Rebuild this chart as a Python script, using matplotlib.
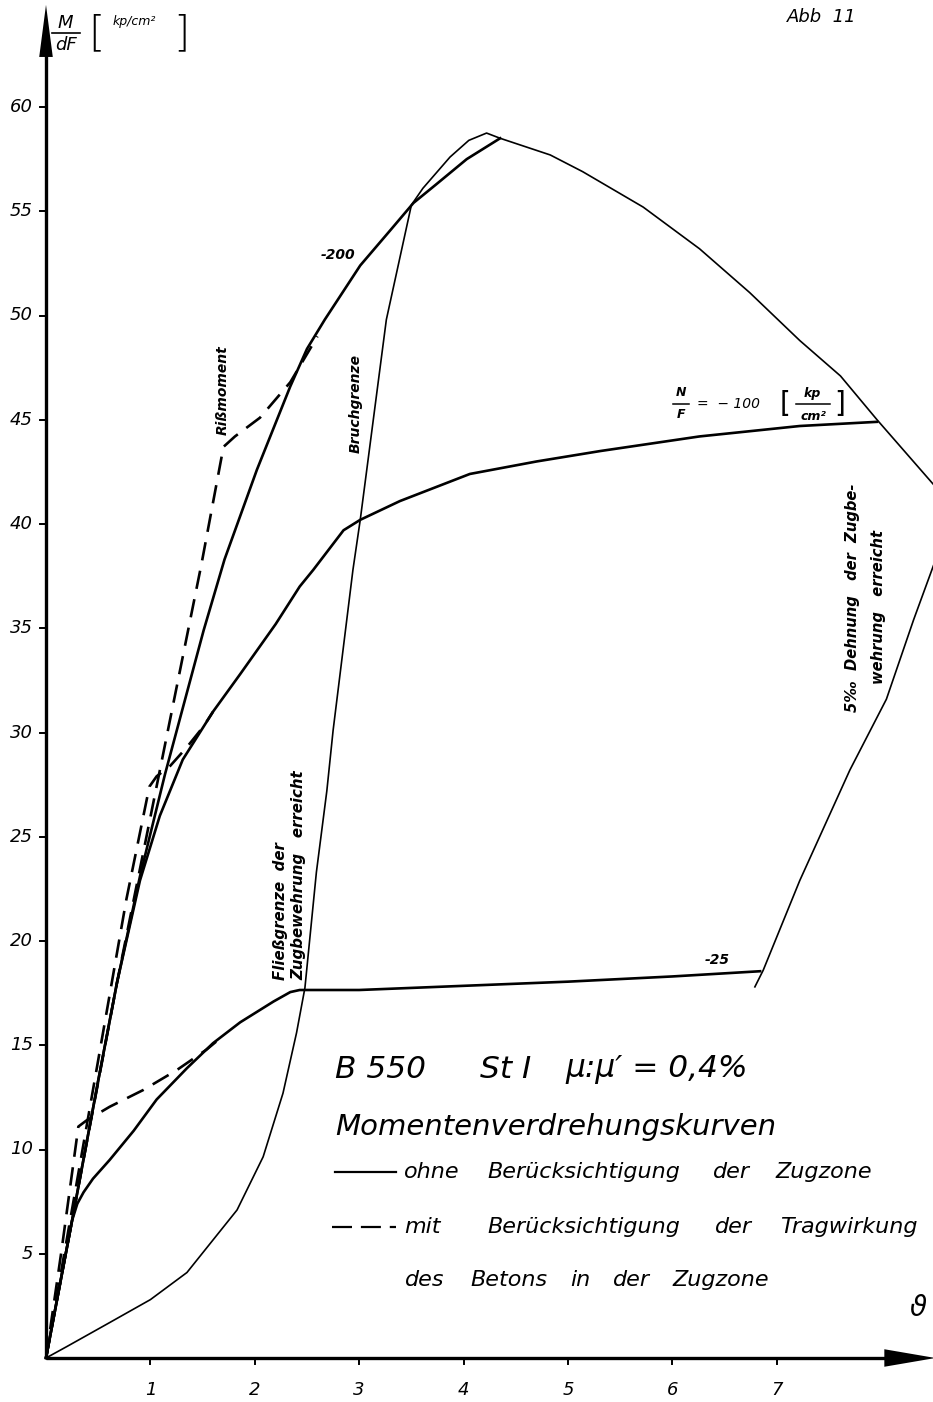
import matplotlib
matplotlib.use("Agg")
import matplotlib.pyplot as plt
import numpy as np

# ---------------------------------------------------------------------------
# Moment-curvature data  (x: curvature, y: M/dF in kp/cm^2)
# ---------------------------------------------------------------------------
# N/F = -25, without tension zone
k_n25 = [0, 0.12, 0.25, 0.30, 0.36, 0.45, 0.61, 0.84, 1.06, 1.35, 1.60, 1.86,
         2.18, 2.34, 2.43, 3.0, 4.0, 5.0, 6.0, 6.84]
m_n25 = [0, 3.2, 6.6, 7.4, 7.95, 8.6, 9.5, 10.9, 12.4, 13.9, 15.1, 16.1,
         17.1, 17.55, 17.65, 17.65, 17.85, 18.05, 18.3, 18.55]
# N/F = -25, with tension zone
k_n25_t = [0, 0.15, 0.31, 0.39, 0.61, 0.93, 1.25, 1.54, 1.66]
m_n25_t = [0, 5.2, 11.1, 11.4, 12.05, 12.85, 13.8, 14.8, 15.3]

# N/F = -100, without tension zone
k_n100 = [0, 0.25, 0.5, 0.68, 0.9, 1.09, 1.31, 1.6, 1.86, 2.2, 2.43, 2.56,
          2.85, 3.01, 3.39, 4.06, 4.7, 5.31, 6.26, 7.22, 7.96]
m_n100 = [0, 6.6, 13.3, 18.0, 22.9, 26.0, 28.7, 31.0, 32.8, 35.2, 37.0, 37.8,
          39.7, 40.2, 41.1, 42.4, 43.0, 43.5, 44.2, 44.7, 44.9]
# N/F = -100, with tension zone
k_n100_t = [0, 0.77, 0.99, 1.06, 1.19, 1.35, 1.51, 1.6]
m_n100_t = [0, 22.0, 27.4, 27.9, 28.4, 29.3, 30.3, 31.0]

# N/F = -200, without tension zone
k_n200 = [0, 0.25, 0.5, 0.68, 0.9, 1.14, 1.51, 1.71, 2.02, 2.34, 2.50, 2.67,
          3.01, 3.30, 3.52, 3.74, 4.03, 4.35]
m_n200 = [0, 6.6, 13.3, 18.0, 23.1, 28.0, 34.9, 38.3, 42.6, 46.6, 48.4, 49.8,
          52.4, 54.1, 55.4, 56.3, 57.5, 58.5]
# N/F = -200, with tension zone
k_n200_t = [0, 0.68, 1.49, 1.70, 1.81, 2.05, 2.34, 2.6]
m_n200_t = [0, 18.0, 38.1, 43.7, 44.2, 45.1, 46.8, 49.0]

# failure limit (Bruchgrenze)
k_bruch = [0, 0.2, 0.61, 1.0, 1.35, 1.83, 2.08, 2.27, 2.40, 2.48, 2.59, 2.69,
           2.75, 2.94, 3.01, 3.26, 3.50, 3.61, 3.87, 4.05, 4.22, 4.35, 4.83,
           5.14, 5.72, 6.26, 6.74, 7.22, 7.61, 7.96, 8.50]
m_bruch = [0, 0.55, 1.7, 2.8, 4.1, 7.1, 9.65, 12.7, 15.6, 17.75, 23.3, 27.2,
           30.1, 37.8, 40.2, 49.8, 55.3, 56.1, 57.6, 58.4, 58.75, 58.5, 57.7,
           56.9, 55.2, 53.2, 51.1, 48.8, 47.1, 45.0, 41.9]

# 5 permille steel strain reached
k_5pm = [6.79, 6.87, 7.22, 7.70, 8.05, 8.31, 8.5]
m_5pm = [17.8, 18.6, 22.9, 28.2, 31.6, 35.4, 38.0]

y_ticks = [5, 10, 15, 20, 25, 30, 35, 40, 45, 50, 55, 60]
x_ticks = [1, 2, 3, 4, 5, 6, 7]

# ---------------------------------------------------------------------------
W, H = 933, 1402
fig = plt.figure(figsize=(W / 100, H / 100), dpi=100)
ax = fig.add_axes([0, 0, 1, 1])
x0_px, y0_px, sx, sy = 46.0, 1358.0, 104.4, 20.85
ax.set_xlim(-x0_px / sx, (W - x0_px) / sx)
ax.set_ylim((y0_px - H) / sy, y0_px / sy)
ax.axis("off")

FONT = dict(family=["DejaVu Sans"], style="italic", color="black")
INK = "black"


def px(x, y):
    """figure pixel position (origin top-left) -> figure fraction"""
    return x / W, 1 - y / H


def ftext(x, y, s, size, **kw):
    opts = dict(FONT)
    opts.update(kw)
    fig.text(*px(x, y), s, fontsize=size, **opts)


def hline(x1, x2, y, lw=1.2, **kw):
    fig.add_artist(plt.Line2D([px(x1, 0)[0], px(x2, 0)[0]], [px(0, y)[1]] * 2,
                              color=INK, lw=lw, **kw))


# axes with arrows
ax.plot([0, 0], [0, 63.0], color=INK, lw=2.4, solid_capstyle="butt")
ax.plot([0, 8.1], [0, 0], color=INK, lw=2.4, solid_capstyle="butt")
ax.fill([-0.065, 0.065, 0], [62.4, 62.4, 64.9], color=INK, lw=0)
ax.fill([8.03, 8.03, 8.52], [-0.42, 0.42, 0], color=INK, lw=0)

for t in y_ticks:
    ax.plot([-0.06, 0], [t, t], color=INK, lw=1.4)
    ax.text(-0.125, t, str(t), ha="right", va="center", fontsize=13, **FONT)
for t in x_ticks:
    ax.plot([t, t], [0, -0.3], color=INK, lw=1.4)
    ax.text(t, -1.55, str(t), ha="center", va="center", fontsize=13, **FONT)

# curves
solid_kw = dict(color=INK, lw=1.9, solid_joinstyle="round")
thin_kw = dict(color=INK, lw=1.2, solid_joinstyle="round")
dash_kw = dict(color=INK, lw=1.9, dashes=(7, 4))

ax.plot(k_n25, m_n25, **solid_kw)
ax.plot(k_n100, m_n100, **solid_kw)
ax.plot(k_n200, m_n200, **solid_kw)
ax.plot(k_bruch, m_bruch, **thin_kw)
ax.plot(k_5pm, m_5pm, **thin_kw)
ax.plot(k_n25_t, m_n25_t, **dash_kw)
ax.plot(k_n100_t, m_n100_t, **dash_kw)
ax.plot(k_n200_t, m_n200_t, **dash_kw)

# axis titles
ftext(65, 23, "M", 13, ha="center", va="center")
hline(52, 80, 33)
ftext(66, 45, "dF", 13, ha="center", va="center")
ftext(96, 34, "[", 30, ha="center", va="center", style="normal", weight="light")
ftext(134, 22, "kp/cm²", 9, ha="center", va="center")
ftext(181, 34, "]", 30, ha="center", va="center", style="normal", weight="light")
ftext(822, 17, "Abb  11", 13, ha="center", va="center")
ftext(918, 1308, "ϑ", 20, ha="center", va="center")

# curve annotations
ftext(223, 390, "Rißmoment", 10, ha="center", va="center", rotation=90,
      weight="bold")
ftext(356, 403, "Bruchgrenze", 10, ha="center", va="center", rotation=90,
      weight="bold")
ftext(338, 255, "-200", 10, ha="center", va="center", weight="bold")
ftext(717, 960, "-25", 10, ha="center", va="center", weight="bold")
ftext(681, 393, "N", 9, ha="center", va="center", weight="bold")
hline(673, 689, 404, lw=1.1)
ftext(681, 415, "F", 9, ha="center", va="center", weight="bold")
ftext(697, 404, "=  − 100", 10, ha="left", va="center")
ftext(785, 404, "[", 20, ha="center", va="center", style="normal")
ftext(812, 394, "kp", 9, ha="center", va="center", weight="bold")
hline(796, 830, 404, lw=1.1)
ftext(813, 416, "cm²", 9, ha="center", va="center", weight="bold")
ftext(840, 404, "]", 20, ha="center", va="center", style="normal")

rot = dict(rotation=90, rotation_mode="anchor", ha="left", va="center",
           weight="bold")
ftext(853, 712, "5‰  Dehnung   der  Zugbe-", 10.6, **rot)
ftext(879, 684, "wehrung   erreicht", 10.6, **rot)
ftext(281, 980, "Fließgrenze  der", 10.8, **rot)
ftext(299, 980, "Zugbewehrung   erreicht", 10.8, **rot)

# title block
ftext(335, 1070, "B 550", 22.5, ha="left", va="center")
ftext(480, 1070, "St I", 22.5, ha="left", va="center")
ftext(565, 1070, "μ:μ′ = 0,4%", 22.5, ha="left", va="center")
ftext(335, 1127, "Momentenverdrehungskurven", 21, ha="left", va="center")

# legend
leg_y = [1172, 1227, 1280]
hline(335, 396, leg_y[0], lw=1.6)
hline(332, 396, leg_y[1], lw=1.6, dashes=(9, 4))
words = [
    [(404, "ohne"), (487, "Berücksichtigung"), (713, "der"), (775, "Zugzone")],
    [(404, "mit"), (487, "Berücksichtigung"), (715, "der"), (780, "Tragwirkung")],
    [(405, "des"), (470, "Betons"), (570, "in"), (613, "der"), (672, "Zugzone")],
]
for yy, row in zip(leg_y, words):
    for xx, w in row:
        ftext(xx, yy, w, 16, ha="left", va="center")

fig.savefig("out.png", dpi=100, facecolor="white")
